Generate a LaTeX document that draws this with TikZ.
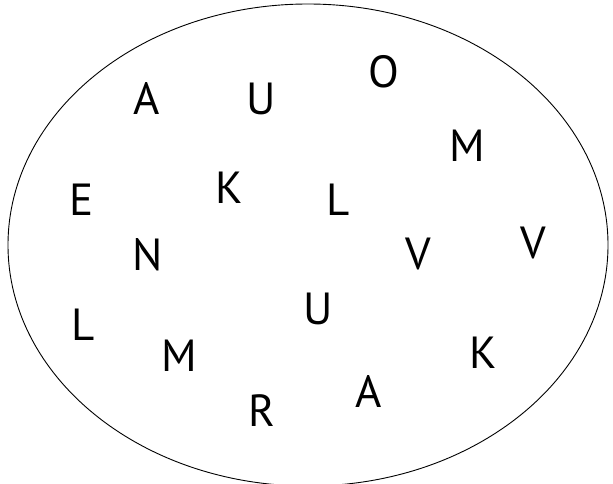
\documentclass[tikz,border=0pt]{standalone}
\usepackage{fontspec}
\setmainfont{PT Sans}
\begin{document}
\begin{tikzpicture}[x=1pt,y=1pt,
  letter/.style={inner sep=0pt,anchor=center,font=\fontsize{45}{45}\selectfont}]
\useasboundingbox (0,0) rectangle (613,483);
\draw[line width=0.9pt] (308,238) ellipse [x radius=300, y radius=241];
\node[letter] (a1) at (146.5,384) {A};
\node[letter] (u1) at (261,384) {U};
\node[letter] (o1) at (384,411) {O};
\node[letter] (m1) at (467,337.5) {M};
\node[letter] (e1) at (82,283) {E};
\node[letter] (k1) at (229,295) {K};
\node[letter] (l1) at (338,283) {L};
\node[letter] (n1) at (148,228) {N};
\node[letter] (v1) at (418,229) {V};
\node[letter] (v2) at (533,240) {V};
\node[letter] (u2) at (318,174.5) {U};
\node[letter] (l2) at (83,158) {L};
\node[letter] (m2) at (179.5,127) {M};
\node[letter] (k2) at (483,130) {K};
\node[letter] (a2) at (369,92) {A};
\node[letter] (r1) at (261.5,72) {R};
\end{tikzpicture}
\end{document}
